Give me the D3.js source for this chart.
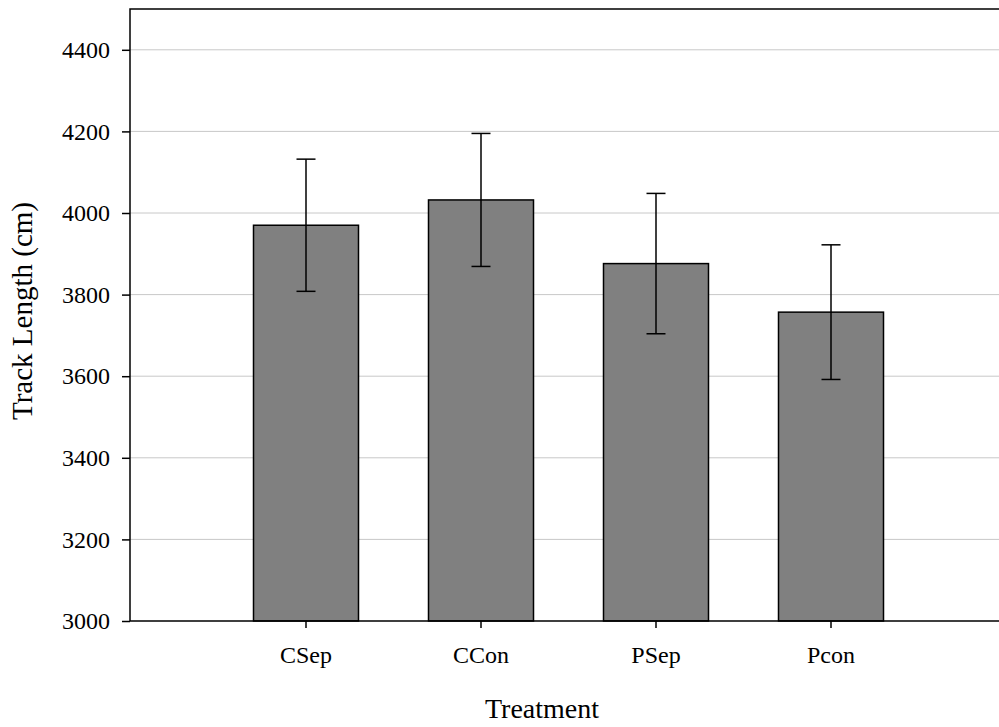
<!DOCTYPE html>
<html>
<head>
<meta charset="utf-8">
<script src="https://cdn.jsdelivr.net/npm/d3@7"></script>
<style>
  html, body { margin: 0; padding: 0; background: #fff; }
  svg { display: block; }
  text { font-family: "Liberation Serif", "Times New Roman", serif; fill: #000; }
</style>
</head>
<body>
<svg id="chart" width="999" height="727"></svg>
<script>
// Mean track length per treatment with standard error
const categories = ["CSep", "CCon", "PSep", "Pcon"];
const means = [3970, 4032, 3876, 3757];
const errors = [162, 163, 172, 165];
const yTicks = [3000, 3200, 3400, 3600, 3800, 4000, 4200, 4400];

const svg = d3.select("#chart");
const plotLeft = 130, plotTop = 9, plotBottom = 621, plotRight = 999;

const y = d3.scaleLinear().domain([3000, 4500]).range([plotBottom, plotTop]);
const x = d3.scaleBand().domain(categories).range([218.5, 918.5])
  .paddingInner(0.4).paddingOuter(0.2);

// horizontal gridlines
svg.append("g").selectAll("line").data(yTicks.filter(d => d > 3000)).join("line")
  .attr("x1", plotLeft).attr("x2", plotRight)
  .attr("y1", d => y(d)).attr("y2", d => y(d))
  .attr("stroke", "#c8c8c8").attr("stroke-width", 1);

// bars
svg.append("g").selectAll("rect").data(categories).join("rect")
  .attr("x", d => x(d)).attr("width", x.bandwidth())
  .attr("y", (d, i) => y(means[i]))
  .attr("height", (d, i) => y(3000) - y(means[i]))
  .attr("fill", "#808080").attr("stroke", "#000").attr("stroke-width", 1.5);

// error bars
const eb = svg.append("g").attr("stroke", "#000").attr("stroke-width", 1.5);
categories.forEach((c, i) => {
  const cx = x(c) + x.bandwidth() / 2;
  const hi = y(means[i] + errors[i]), lo = y(means[i] - errors[i]);
  eb.append("line").attr("x1", cx).attr("x2", cx).attr("y1", hi).attr("y2", lo);
  eb.append("line").attr("x1", cx - 9.5).attr("x2", cx + 9.5).attr("y1", hi).attr("y2", hi);
  eb.append("line").attr("x1", cx - 9.5).attr("x2", cx + 9.5).attr("y1", lo).attr("y2", lo);
});

// y axis
const yAxis = svg.append("g").attr("transform", `translate(${plotLeft},0)`)
  .call(d3.axisLeft(y).tickValues(yTicks).tickSize(8).tickPadding(12).tickFormat(d3.format("d")));
yAxis.select(".domain").remove();
yAxis.selectAll(".tick line").attr("stroke", "#000").attr("stroke-width", 1.5);
yAxis.selectAll("text").attr("font-size", 24).attr("font-family", "Liberation Serif");

// x axis
const xAxis = svg.append("g").attr("transform", `translate(0,${plotBottom})`)
  .call(d3.axisBottom(x).tickSize(7).tickPadding(18));
xAxis.select(".domain").remove();
xAxis.selectAll(".tick line").attr("stroke", "#000").attr("stroke-width", 1.5);
xAxis.selectAll("text").attr("font-size", 24).attr("font-family", "Liberation Serif");

// frame: left, top and bottom lines
svg.append("path")
  .attr("d", `M${plotRight},${plotTop}H${plotLeft}V${plotBottom}H${plotRight}`)
  .attr("fill", "none").attr("stroke", "#000").attr("stroke-width", 1.5);

// axis titles
svg.append("text").attr("x", 542).attr("y", 718).attr("text-anchor", "middle")
  .attr("font-size", 28).text("Treatment");
svg.append("text").attr("transform", "translate(32,311) rotate(-90)")
  .attr("text-anchor", "middle").attr("font-size", 29).text("Track Length (cm)");
</script>
</body>
</html>
